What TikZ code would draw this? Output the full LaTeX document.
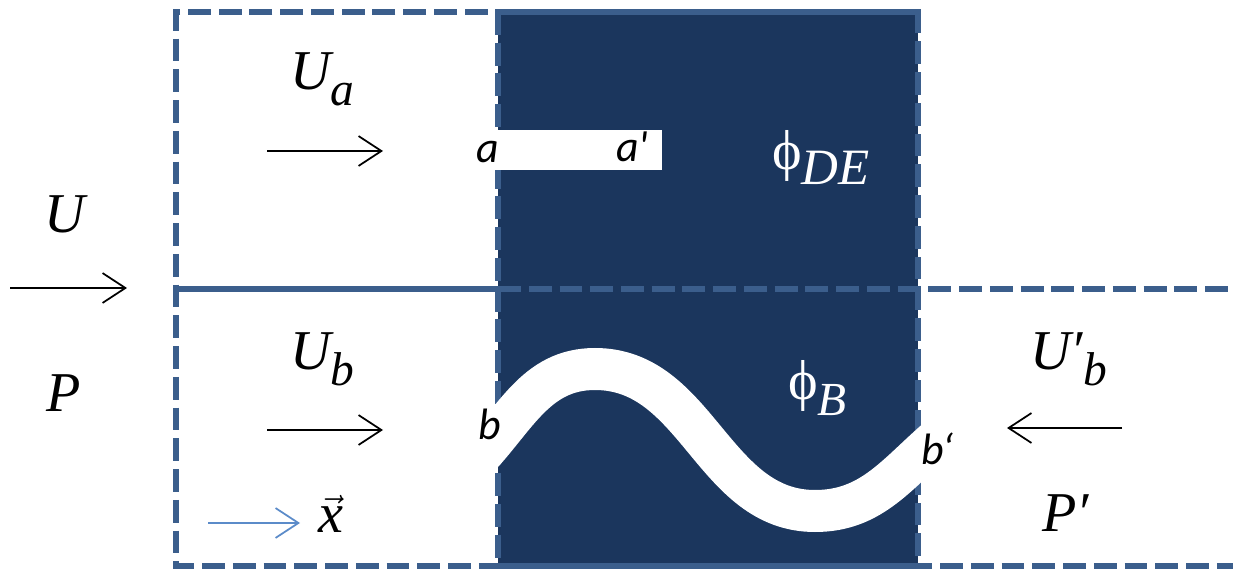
\documentclass[tikz,border=0pt]{standalone}
\usepackage{fontspec}
\usepackage{tikz}
\usetikzlibrary{arrows.meta}
\setmainfont{Liberation Serif}
\newfontfamily\portfont{Carlito}
\definecolor{blockc}{HTML}{1B365D}
\definecolor{edgec}{HTML}{3B5E8C}
\definecolor{axisc}{HTML}{5B8BC9}
\newcommand{\lowsub}[1]{\raisebox{-9pt}{\fontsize{27}{30}\selectfont #1}}
\tikzset{
  edge/.style={draw=edgec, line width=3.2pt, dash pattern=on 13pt off 4.5pt},
  wall/.style={draw=edgec, line width=3.2pt},
  flow/.style={-{Straight Barb[length=13pt,width=17pt]}, line width=1pt},
  sym/.style={inner sep=0pt, anchor=base west, font=\fontsize{32}{36}\selectfont\itshape},
  port/.style={inner sep=0pt, anchor=base west, font=\fontsize{25}{30}\selectfont\portfont\itshape},
}

\begin{document}
\begin{tikzpicture}[x=0.02cm, y=0.02cm]
\useasboundingbox (0,0) rectangle (1233,-573);
% porous block
\fill[blockc] (498,-12) rectangle (918,-566);
\draw[edge] (498,-12) rectangle (918,-566);
% outer frame
\draw[edge] (918,-12) -- (176,-12) -- (176,-566) -- (1233,-566);
\draw[wall] (176,-289) -- (498,-289);
\draw[edge] (498,-289) -- (1233,-289);
% channels
\fill[white] (490,-130) rectangle (662,-170);
\begin{scope}
\clip (495,0) rectangle (921,-573);
\draw[white, line width=23.9pt] (472,-464) to[out=45,in=180] (595,-369) to[out=0,in=180] (815,-511) to[out=0,in=220] (942,-435);
\end{scope}
% arrows
\coordinate (u-s) at (10,-288);
\coordinate (u-e) at (127,-288);
\coordinate (ua-s) at (267,-151);
\coordinate (ua-e) at (383,-151);
\coordinate (ub-s) at (267,-430);
\coordinate (ub-e) at (383,-430);
\coordinate (ubp-s) at (1122,-428);
\coordinate (ubp-e) at (1007,-428);
\coordinate (x-s) at (208,-523);
\coordinate (x-e) at (300,-523);
\draw[flow] (u-s) -- (u-e);
\draw[flow] (ua-s) -- (ua-e);
\draw[flow] (ub-s) -- (ub-e);
\draw[flow] (ubp-s) -- (ubp-e);
\draw[flow, axisc] (x-s) -- (x-e);
% labels
\node[sym] (U) at (44,-233) {U};
\node[sym] (P) at (46,-412) {P};
\node[sym] (Ua) at (290,-90) {U\lowsub{a}};
\node[sym] (Ub) at (290,-370) {U\lowsub{b}};
\node[sym] (Ubp) at (1030,-370) {U′\lowsub{b}};
\node[sym] (Pp) at (1042,-532) {P′};
\node[sym, text=white] (phiDE) at (772,-170) {{\upshape ϕ}\raisebox{-8pt}{\fontsize{29}{32}\selectfont DE}};
\node[sym, text=white] (phiB) at (788,-400) {{\upshape ϕ}\lowsub{B}};
\node[sym] (xvec) at (318,-533) {$\vec{\textit{x}}$};
\node[port] (a) at (476,-163) {a};
\node[port] (ap) at (616,-162) {a'};
\node[port] (b) at (478,-440) {b};
\node[port] (bp) at (921,-465) {b‘};
\end{tikzpicture}
\end{document}
